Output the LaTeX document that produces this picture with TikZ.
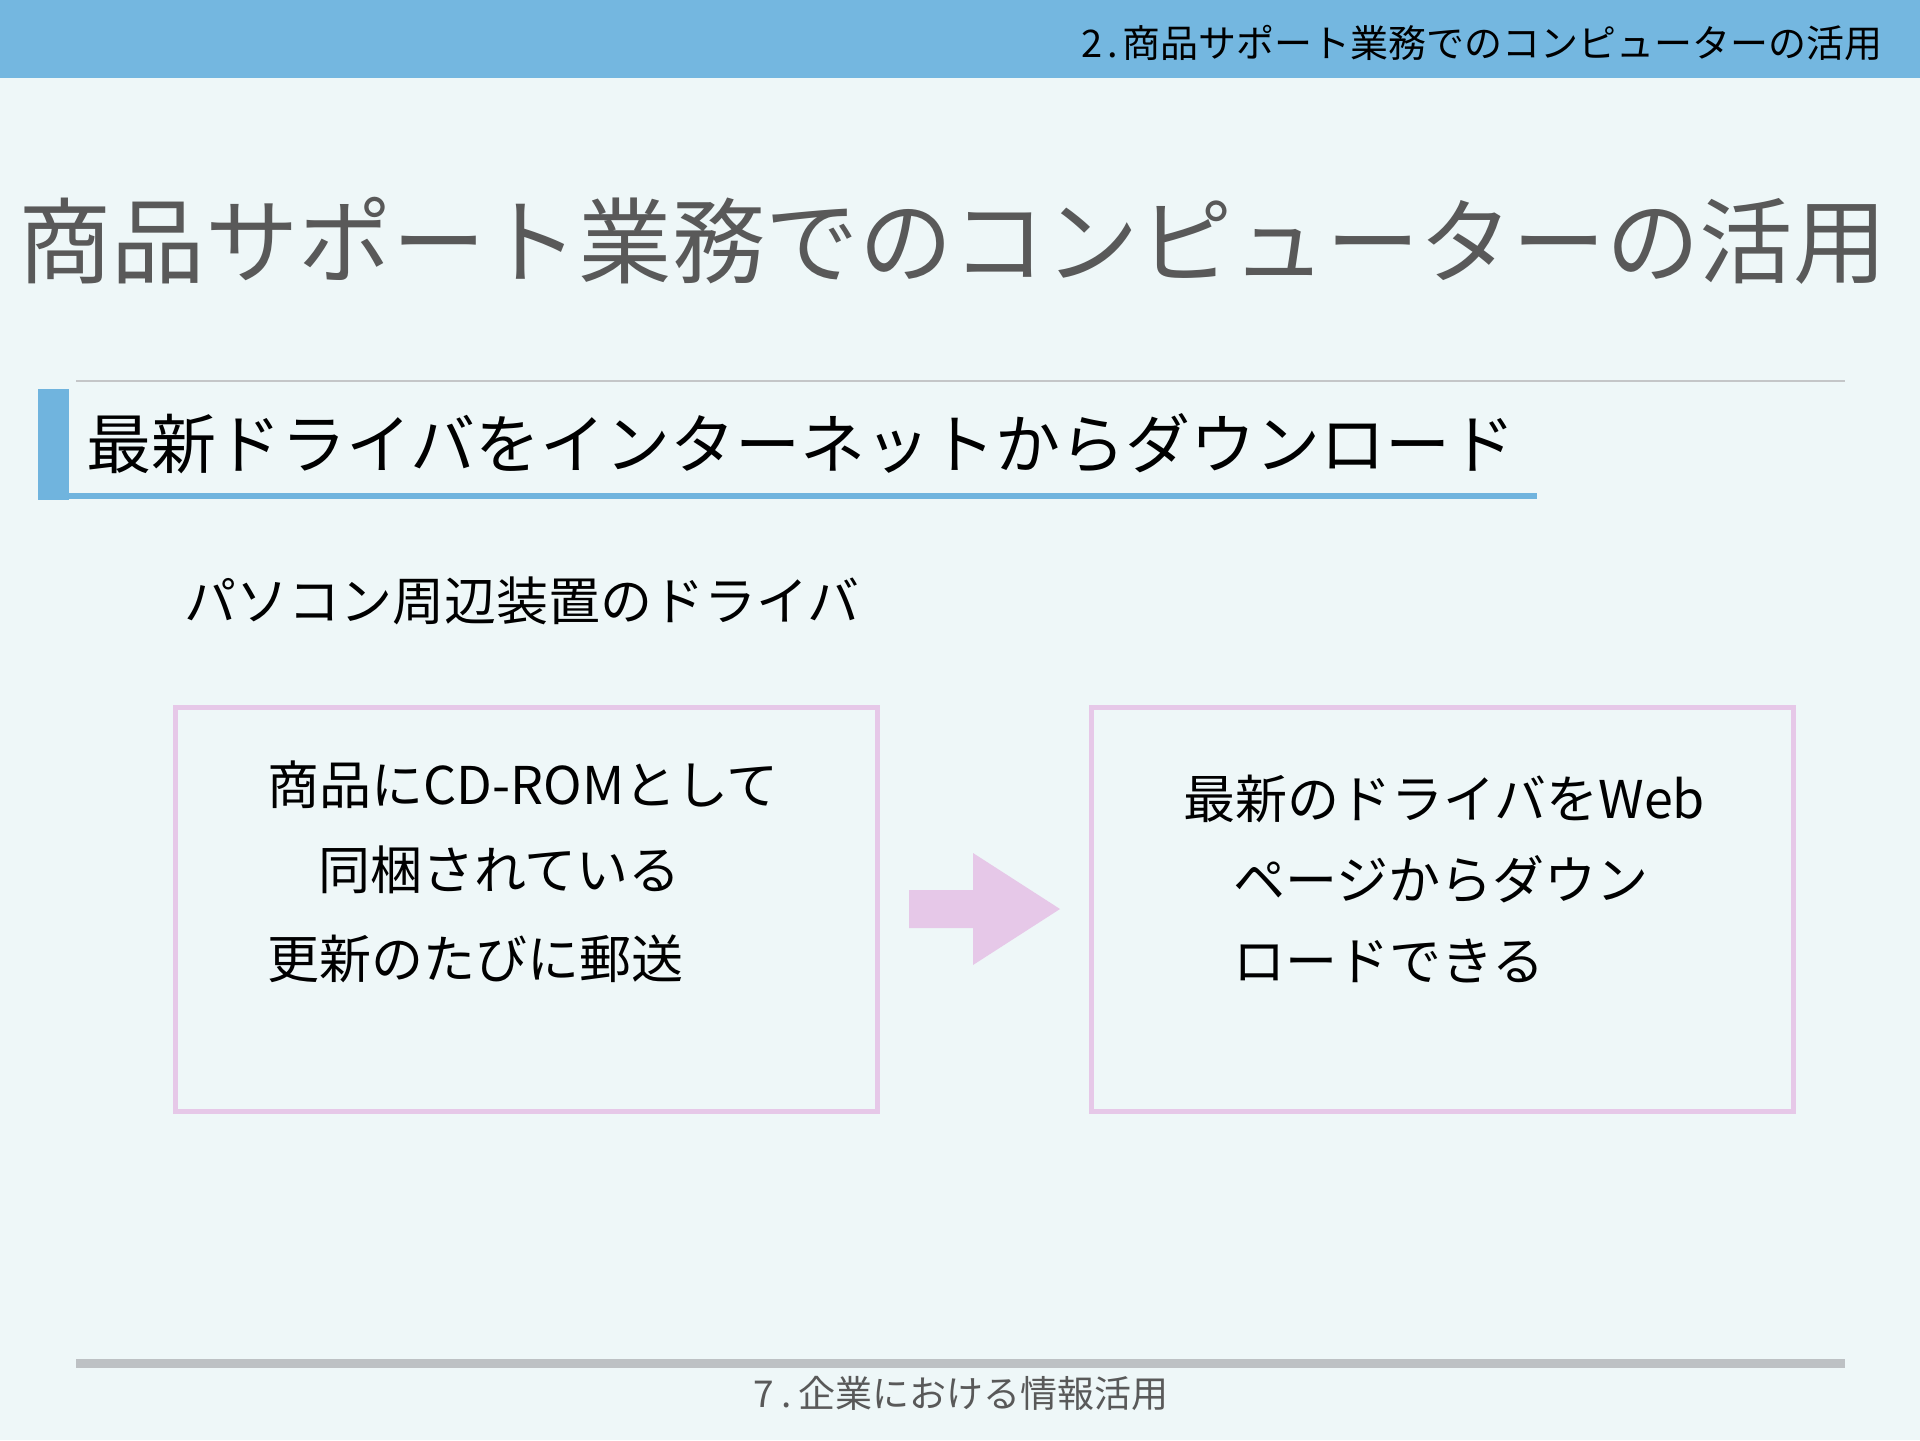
\documentclass[tikz,border=0pt]{standalone}
\usepackage{fontspec}
\setmainfont{Noto Sans CJK JP}
\definecolor{bgc}{HTML}{EEF7F8}
\definecolor{headblue}{HTML}{74B7E0}
\definecolor{subblue}{HTML}{70B4DE}
\definecolor{pinkc}{HTML}{E6C8E8}
\definecolor{thingray}{HTML}{C4C6C8}
\definecolor{footgray}{HTML}{BDC1C4}
\definecolor{titlegray}{HTML}{595959}
\begin{document}
\begin{tikzpicture}[x=0.5pt,y=-0.5pt,
  fs/.style={font=\fontsize{#1}{#1}\selectfont},
  txt/.style={inner sep=0pt, anchor=base west},
  pinkbox/.style={draw=pinkc, line width=2.5pt, inner sep=0pt, minimum width=351pt, minimum height=202pt}]
\useasboundingbox (0,0) rectangle (1920,1440);
\fill[bgc] (0,0) rectangle (1920,1440);
% header band
\fill[headblue] (0,0) rectangle (1920,78);
\node[txt, anchor=base east, fs=19pt, text=black] (head) at (1883,57) {2\kern0.12em.\kern0.12em 商品サポート業務でのコンピューターの活用};
% title
\node[txt, fs=46.7pt, text=titlegray] (title) at (18,276) {商品サポート業務でのコンピューターの活用};
% thin line
\draw[thingray, line width=0.8pt] (76,381) -- (1845,381);
% subtitle bar
\fill[subblue] (38,389) rectangle (69,500);
\fill[subblue] (69,493) rectangle (1537,499);
\node[txt, fs=32.5pt, text=black] (sub) at (86,468) {最新ドライバをインターネットからダウンロード};
% lead text
\node[txt, fs=26pt, text=black] (lead) at (184,620) {パソコン周辺装置のドライバ};
% boxes
\node[pinkbox] (lbox) at (526,909) {};
\node[pinkbox] (rbox) at (1442.5,909) {};
\node[txt, fs=26pt] (l1) at (267,804) {商品にCD-ROMとして};
\node[txt, fs=26pt] (l2) at (318,889) {同梱されている};
\node[txt, fs=26pt] (l3) at (267,978) {更新のたびに郵送};
\node[txt, fs=26pt] (r1) at (1183,818) {最新のドライバをWeb};
\node[txt, fs=26pt] (r2) at (1233,899) {ページからダウン};
\node[txt, fs=26pt] (r3) at (1233,980) {ロードできる};
% arrow
\fill[pinkc] (909,890) -- (973,890) -- (973,853) -- (1060,909) -- (973,965) -- (973,928) -- (909,928) -- cycle;
% footer
\fill[footgray] (76,1359) rectangle (1845,1368);
\node[txt, anchor=base, fs=18.5pt, text=titlegray] (foot) at (961,1407) {7\kern0.2em.\kern0.2em 企業における情報活用};
\end{tikzpicture}
\end{document}
